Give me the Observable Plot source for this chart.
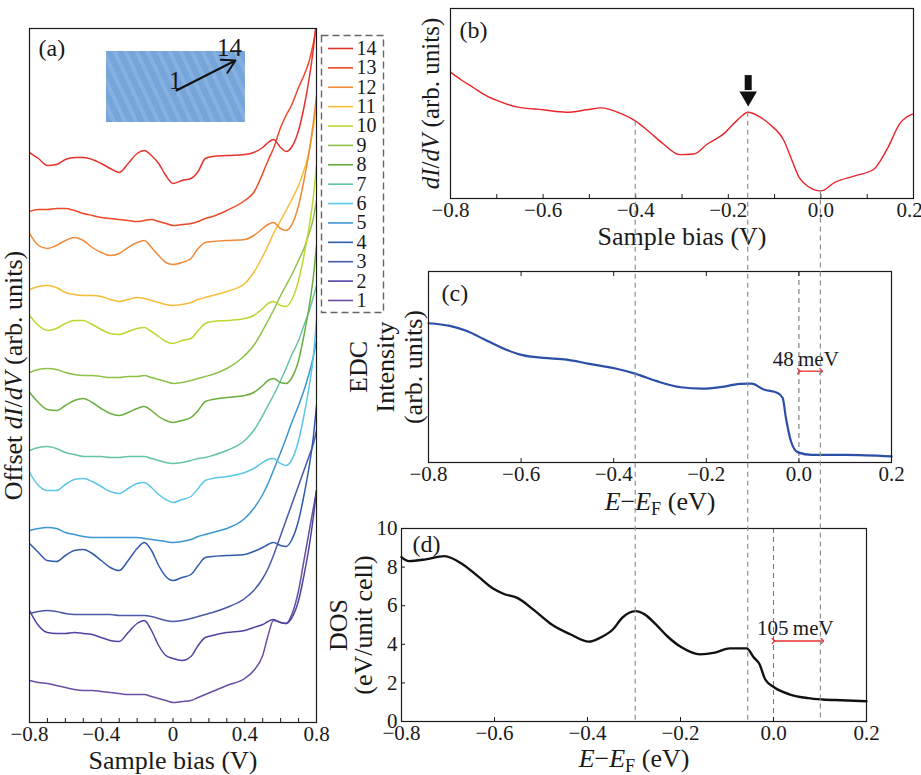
<!DOCTYPE html>
<html><head><meta charset="utf-8">
<script src="https://cdn.jsdelivr.net/npm/d3@7"></script>
<script src="https://cdn.jsdelivr.net/npm/@observablehq/plot@0.6"></script>
<style>
body{margin:0;background:#fff;}
#fig{position:relative;width:921px;height:775px;}
#fig svg{position:absolute;overflow:visible;}
</style></head><body><div id="fig"></div>
<script>
// ---------- Panel (a): offset dI/dV spectra 1..14 ----------
const biasA = [-0.8,-0.75,-0.7,-0.65,-0.6,-0.55,-0.5,-0.45,-0.4,-0.35,-0.3,-0.25,-0.2,-0.16,-0.12,-0.08,-0.04,0,0.05,0.1,0.14,0.18,0.22,0.3,0.4,0.45,0.5,0.53,0.56,0.6,0.63,0.66,0.7,0.73,0.76,0.78,0.8];
const s1  = [42,40,39,37,35,33,32,32,31,30,29,28,28,28,26,24,22,20,21,22,25,28,31,37,44,52,67,87,102,100,99,107,132,162,192,212,232];
const s2  = [112,97,90,89,89,90,89,88,85,82,81,90,99,102,92,77,67,64,62,66,77,85,87,90,92,95,98,101,103,100,99,104,122,147,177,202,232];
const s3  = [109,111,112,111,109,108,108,108,108,108,107,107,107,107,106,104,102,101,102,104,106,108,110,115,124,132,144,154,167,187,202,217,237,252,267,277,292];
const s4  = [179,170,162,161,167,172,173,169,162,155,152,162,174,180,172,157,146,142,145,148,157,165,166,167,168,171,175,178,180,177,176,182,202,227,257,282,317];
const s5  = [192,194,195,194,190,188,186,185,185,185,185,185,185,184,183,182,181,180,181,183,186,188,190,194,204,214,228,239,252,270,284,299,317,332,350,364,382];
const s6  = [250,237,232,232,238,243,244,241,236,231,229,234,239,240,235,228,223,220,223,226,234,242,244,246,250,254,260,263,264,259,257,262,282,307,337,362,402];
const s7  = [272,275,276,274,270,268,266,266,266,265,265,266,266,266,264,262,260,259,260,262,264,265,267,272,282,292,307,317,327,342,354,367,382,397,412,424,437];
const s8  = [330,320,313,312,317,322,324,320,314,309,307,310,314,316,312,306,302,300,302,305,312,321,323,325,327,330,337,342,344,340,339,344,362,387,417,442,477];
const s9  = [350,353,354,353,350,348,347,347,346,345,345,346,346,347,345,343,341,339,340,342,344,346,348,354,367,377,392,402,412,427,437,447,462,474,490,502,522];
const s10 = [407,397,392,394,399,402,402,398,393,389,388,391,394,395,391,386,381,379,382,384,392,399,401,402,404,407,414,419,421,417,416,422,442,467,497,522,557];
const s11 = [433,436,437,435,430,428,427,427,426,423,421,423,425,424,422,420,418,417,418,420,423,425,427,431,439,450,466,477,489,502,512,522,537,552,572,592,618];
const s12 = [489,477,474,477,482,485,482,475,470,467,469,475,480,482,475,467,460,458,460,464,474,480,481,482,483,487,494,498,500,494,492,497,517,542,572,597,627];
const s13 = [511,513,513,514,514,512,509,507,505,504,503,502,501,502,503,501,499,497,498,499,501,504,506,512,522,530,549,562,574,595,607,617,635,647,662,677,697];
const s14 = [570,564,557,558,563,565,565,563,559,554,550,559,569,572,567,559,547,539,542,544,551,564,566,567,568,570,575,580,583,575,571,575,592,615,645,670,702];
const seriesA = [s1,s2,s3,s4,s5,s6,s7,s8,s9,s10,s11,s12,s13,s14];
const labelsA = ["1","2","3","4","5","6","7","8","9","10","11","12","13","14"];
const colorsA = ["#6b4ea2","#4e44a0","#4a58a8","#2f5aae","#3b95d3","#5cc6e6","#66c4a6","#6aae3e","#8cc24a","#bfd630","#f6bd3a","#ef8a38","#ec4a26","#e5322c"];
const ticksA = [-0.8,-0.7,-0.6,-0.5,-0.4,-0.3,-0.2,-0.1,0,0.1,0.2,0.3,0.4,0.5,0.6,0.7,0.8];
const majorA = [-0.8,-0.4,0,0.4,0.8];
const insetBox = [{x1:-0.371, x2:0.404, y1:600, y2:671}];
const insetArrow = [{x1:0.019, y1:632, x2:0.348, y2:662}];
const insetLabels = [{x:0.012, y:642, text:"1", anchor:"end"}, {x:0.315, y:675, text:"14", anchor:"middle"}];

// ---------- Panel (b): dI/dV ----------
const biasB = [-0.8,-0.775,-0.75,-0.73,-0.7,-0.655,-0.6,-0.55,-0.505,-0.475,-0.43,-0.4,-0.37,-0.34,-0.305,-0.275,-0.245,-0.21,-0.18,-0.157,-0.133,-0.11,-0.08,-0.065,-0.047,-0.03,0,0.03,0.075,0.115,0.13,0.145,0.17,0.2];
const didvB = [66.5,62.1,58.3,55.1,51.6,48.1,46.7,45.4,46.7,47.7,44.5,40.7,34.9,28.7,23.1,23.4,28.7,34.0,41.4,45.4,43.1,38.9,30.5,21.6,11.1,6.7,4.0,8.5,12.0,15.5,20.5,26.9,39.3,44.5];
const guideBias = [-0.4,-0.157,0];
const arrowB = {bias:-0.157, top:64.7, base:56.8, tip:53.7};

// ---------- Panel (c): EDC ----------
const energyC = [-0.8,-0.754,-0.717,-0.679,-0.642,-0.597,-0.553,-0.501,-0.456,-0.396,-0.352,-0.307,-0.255,-0.21,-0.158,-0.128,-0.102,-0.076,-0.046,-0.035,-0.028,-0.017,-0.002,0.028,0.102,0.2];
const edcC = [72.9,71.5,68.8,64.4,60.1,56.2,54.8,53.9,51.8,49.2,46.4,42.6,39.4,38.7,39.9,41.2,41.3,38.2,36.4,33.8,23.3,11.0,5.3,4.0,4.0,3.2];
const gapC = {from:0, to:0.048, y:47.8, labelX:0.015, labelY:54, label:"48\u2009meV"};

// ---------- Panel (d): DOS ----------
const energyD = [-0.8,-0.784,-0.748,-0.708,-0.668,-0.636,-0.604,-0.581,-0.549,-0.517,-0.477,-0.437,-0.397,-0.373,-0.345,-0.325,-0.297,-0.277,-0.253,-0.229,-0.197,-0.158,-0.126,-0.094,-0.058,-0.042,-0.03,-0.018,0.002,0.034,0.074,0.106,0.146,0.2];
const dosD = [8.52,8.31,8.40,8.57,8.14,7.53,6.90,6.62,6.38,5.81,5.03,4.52,4.14,4.34,4.78,5.38,5.72,5.55,5.03,4.43,3.83,3.48,3.57,3.79,3.79,3.31,2.97,2.19,1.76,1.41,1.21,1.14,1.10,1.05];
const gapD = {from:0, to:0.105, y:4.17, labelX:0.047, labelY:4.85, label:"105\u2009meV"};

const ticksE = [-0.8,-0.6,-0.4,-0.2,0,0.2];
const ticksB = [-0.8,-0.7,-0.6,-0.5,-0.4,-0.3,-0.2,-0.1,0,0.1,0.2];
const ticksDos = [0,2,4,6,8,10];

// ---------- helpers ----------
const FAM = "'Liberation Serif', serif";
const INK = "#1a1a1a";
const fig = document.getElementById("fig");
const fmtA = d => d === 0 ? "0" : d3.format(".1f")(d);
const fmt1 = d3.format(".1f");
const blank = () => "";
const baseStyle = "font-family: 'Liberation Serif', serif; font-size: 20px; color: #1a1a1a; background: transparent; overflow: visible;";
function place(svg, left, top) {
  d3.select(svg).attr("font-family", "Liberation Serif")
    .selectAll("text").attr("font-family", "Liberation Serif").style("font-family", FAM);
  svg.style.left = left + "px"; svg.style.top = top + "px"; svg.style.fontFamily = FAM;
  fig.appendChild(svg); return svg;
}
function richText(svg, plain, parts) {
  d3.select(svg).selectAll("text").each(function() {
    if (this.textContent !== plain) return;
    const el = d3.select(this); el.text(null);
    for (const p of parts) {
      const t = el.append("tspan").text(p.t);
      if (p.i) t.attr("font-style", "italic");
      if (p.sub) t.attr("dy", 5).attr("font-size", "70%");
      if (p.up) t.attr("dy", -5);
    }
  });
}
const didvParts = (pre, post) => [{t: pre}, {t: "dI", i: 1}, {t: "/"}, {t: "dV", i: 1}, {t: post}];
const eParts = [{t: "E", i: 1}, {t: "\u2212"}, {t: "E", i: 1}, {t: "F", sub: 1}, {t: " (eV)", up: 1}];
const TITLE = 26, TICK = 21, LETTER = 24;
const xTitle = (s, dy) => Plot.text([s], {text: d => d, frameAnchor: "bottom", textAnchor: "middle", lineAnchor: "middle", dy, fontSize: TITLE});
const yTitle = (s, dx, extra = {}) => Plot.text([s], {text: d => d, frameAnchor: "left", textAnchor: "middle", lineAnchor: "middle", rotate: -90, dx, fontSize: TITLE, ...extra});
const letter = (s, dx, dy) => Plot.text([s], {text: d => d, frameAnchor: "top-left", textAnchor: "start", lineAnchor: "middle", dx, dy, fontSize: LETTER});

// ---------- Plot A ----------
const rowsA = seriesA.flatMap((s, k) => s.map((v, i) => ({bias: biasA[i], value: v, curve: labelsA[k]})));
const plotA = Plot.plot({
  width: 340, height: 775, marginLeft: 29, marginRight: 24, marginTop: 28, marginBottom: 53,
  style: baseStyle,
  x: {domain: [-0.8, 0.8]},
  y: {domain: [0, 694], axis: null},
  color: {domain: labelsA, range: colorsA},
  marks: [
    Plot.line(rowsA, {x: "bias", y: "value", z: "curve", stroke: "curve", strokeWidth: 1.5, curve: "monotone-x", clip: true}),
    Plot.rect(insetBox, {x1: "x1", x2: "x2", y1: "y1", y2: "y2", fill: "url(#stripes)"}),
    Plot.arrow(insetArrow, {x1: "x1", y1: "y1", x2: "x2", y2: "y2", stroke: "#111", strokeWidth: 2, headLength: 11}),
    Plot.text(insetLabels, {x: "x", y: "y", text: "text", textAnchor: d => d.anchor, fontSize: 25, fill: INK}),
    letter("(a)", 9, 20),
    Plot.axisX(ticksA, {tickSize: -4, tickFormat: blank, label: null}),
    Plot.axisX(majorA, {tickSize: 0, tickPadding: 4, tickFormat: fmtA, fontSize: TICK, label: null}),
    Plot.frame({stroke: INK, strokeWidth: 1.2}),
    xTitle("Sample bias (V)", 38),
    yTitle("Offset dI/dV (arb. units)", -16)
  ]
});
{
  const defs = d3.select(plotA).insert("defs", ":first-child");
  const pat = defs.append("pattern").attr("id", "stripes").attr("patternUnits", "userSpaceOnUse")
    .attr("width", 10).attr("height", 10).attr("patternTransform", "rotate(-25)");
  pat.append("rect").attr("width", 10).attr("height", 10).attr("fill", "#76a5da");
  pat.append("rect").attr("width", 4).attr("height", 10).attr("fill", "#86b0e0");
}
richText(plotA, "Offset dI/dV (arb. units)", didvParts("Offset ", " (arb. units)"));
place(plotA, 0, 0);

// ---------- Legend ----------
const legendRows = labelsA.map((l, k) => ({k: k + 1, label: l, color: colorsA[k]}));
const legend = Plot.plot({
  width: 62, height: 277, margin: 0,
  style: baseStyle,
  x: {domain: [0, 62], axis: null},
  y: {domain: [0.38, 14.67], axis: null},
  marks: [
    Plot.ruleY(legendRows, {y: "k", x1: 7, x2: 32, stroke: d => d.color, strokeWidth: 1.6}),
    Plot.text(legendRows, {y: "k", x: 35, text: "label", textAnchor: "start", fontSize: 20, fill: INK}),
    Plot.frame({stroke: "#666", strokeWidth: 1.4, strokeDasharray: "7,4"})
  ]
});
place(legend, 321, 35);

// ---------- Plot B ----------
const rowsB = biasB.map((b, i) => ({bias: b, value: didvB[i]}));
const plotB = Plot.plot({
  width: 541, height: 262, marginLeft: 70, marginRight: 8, marginTop: 8, marginBottom: 64,
  style: baseStyle,
  x: {domain: [-0.8, 0.2]},
  y: {domain: [0, 100], axis: null},
  marks: [
    Plot.line(rowsB, {x: "bias", y: "value", stroke: "#e8242a", strokeWidth: 1.4, curve: "monotone-x"}),
    Plot.ruleX([arrowB], {x: "bias", y1: "base", y2: "top", stroke: "#111", strokeWidth: 7}),
    Plot.dot([arrowB], {x: "bias", y: "tip", symbol: "triangle", r: 6.5, rotate: 180, fill: "#111", stroke: "none"}),
    letter("(b)", 9, 22),
    Plot.axisX(ticksB, {tickSize: -4, tickFormat: blank, label: null}),
    Plot.axisX(ticksE, {tickSize: 0, tickPadding: 4, tickFormat: fmt1, fontSize: TICK, label: null}),
    Plot.frame({stroke: INK, strokeWidth: 1.2}),
    xTitle("Sample bias (V)", 38),
    yTitle("dI/dV (arb. units)", -20, {fontSize: 25})
  ]
});
richText(plotB, "dI/dV (arb. units)", didvParts("", " (arb. units)"));
d3.select(plotB).selectAll("text").filter(function() { return this.textContent === "0.2"; }).attr("dx", -4);
place(plotB, 380, 0);

// ---------- Plot C ----------
const rowsC = energyC.map((e, i) => ({energy: e, value: edcC[i]}));
const plotC = Plot.plot({
  width: 591, height: 258, marginLeft: 98, marginRight: 30, marginTop: 9, marginBottom: 58,
  style: baseStyle,
  x: {domain: [-0.8, 0.2]},
  y: {domain: [0, 100], axis: null},
  marks: [
    Plot.ruleX([0], {stroke: "#777", strokeWidth: 1.1, strokeDasharray: "5,4"}),
    Plot.line(rowsC, {x: "energy", y: "value", stroke: "#2b4ea6", strokeWidth: 2.2, curve: "monotone-x"}),
    Plot.link([gapC], {x1: "from", x2: "to", y1: "y", y2: "y", stroke: "#e83030", strokeWidth: 1.3, marker: "arrow"}),
    Plot.text([gapC], {x: "labelX", y: "labelY", text: "label", fontSize: 21, fill: INK}),
    letter("(c)", 13, 22),
    Plot.axisX(ticksE, {tickSize: -4, tickFormat: blank, label: null}),
    Plot.axisX(ticksE, {anchor: "top", tickSize: -4, tickFormat: blank, label: null}),
    Plot.axisX(ticksE, {tickSize: 0, tickPadding: 4, tickFormat: fmt1, fontSize: TICK, label: null}),
    Plot.frame({stroke: INK, strokeWidth: 1.2}),
    xTitle("E\u2212EF (eV)", 39),
    yTitle("EDC\nIntensity\n(arb. units)", -43, {lineHeight: 1.05})
  ]
});
richText(plotC, "E\u2212EF (eV)", eParts);
place(plotC, 330, 262);

// ---------- Plot D ----------
const rowsD = energyD.map((e, i) => ({energy: e, value: dosD[i]}));
const plotD = Plot.plot({
  width: 601, height: 255, marginLeft: 81, marginRight: 55, marginTop: 8, marginBottom: 54,
  style: baseStyle,
  x: {domain: [-0.8, 0.2]},
  y: {domain: [0, 10]},
  marks: [
    Plot.ruleX([0], {stroke: "#777", strokeWidth: 1.1, strokeDasharray: "5,4"}),
    Plot.line(rowsD, {x: "energy", y: "value", stroke: "#111", strokeWidth: 2.4, curve: "monotone-x"}),
    Plot.link([gapD], {x1: "from", x2: "to", y1: "y", y2: "y", stroke: "#e83030", strokeWidth: 1.3, marker: "arrow"}),
    Plot.text([gapD], {x: "labelX", y: "labelY", text: "label", fontSize: 21, fill: INK}),
    letter("(d)", 11, 16),
    Plot.axisX(ticksE, {tickSize: -4, tickFormat: blank, label: null}),
    Plot.axisX(ticksE, {tickSize: 0, tickPadding: 4, tickFormat: fmt1, fontSize: TICK, label: null}),
    Plot.axisY(ticksDos, {tickSize: -4, tickPadding: 8, fontSize: TICK, label: null}),
    Plot.frame({stroke: INK, strokeWidth: 1.2}),
    xTitle("E\u2212EF (eV)", 37),
    yTitle("DOS\n(eV/unit cell)", -50, {lineHeight: 0.97})
  ]
});
richText(plotD, "E\u2212EF (eV)", eParts);
place(plotD, 320, 520);

// ---------- long guide lines across (b), (c), (d) ----------
const xB = plotB.scale("x"), yB = plotB.scale("y"), yD = plotD.scale("y");
const valB = d3.scaleLinear().domain(biasB).range(didvB);
const overlay = d3.create("svg").attr("width", 921).attr("height", 775)
  .style("left", "0px").style("top", "0px").style("pointer-events", "none");
for (const v of guideBias) {
  const px = 380 + xB.apply(v);
  overlay.append("line").attr("x1", px).attr("x2", px)
    .attr("y1", 0 + yB.apply(valB(v))).attr("y2", 520 + yD.apply(0))
    .attr("stroke", "#8f8f8f").attr("stroke-width", 1.2).attr("stroke-dasharray", "5,4");
}
fig.appendChild(overlay.node());
</script></body></html>
